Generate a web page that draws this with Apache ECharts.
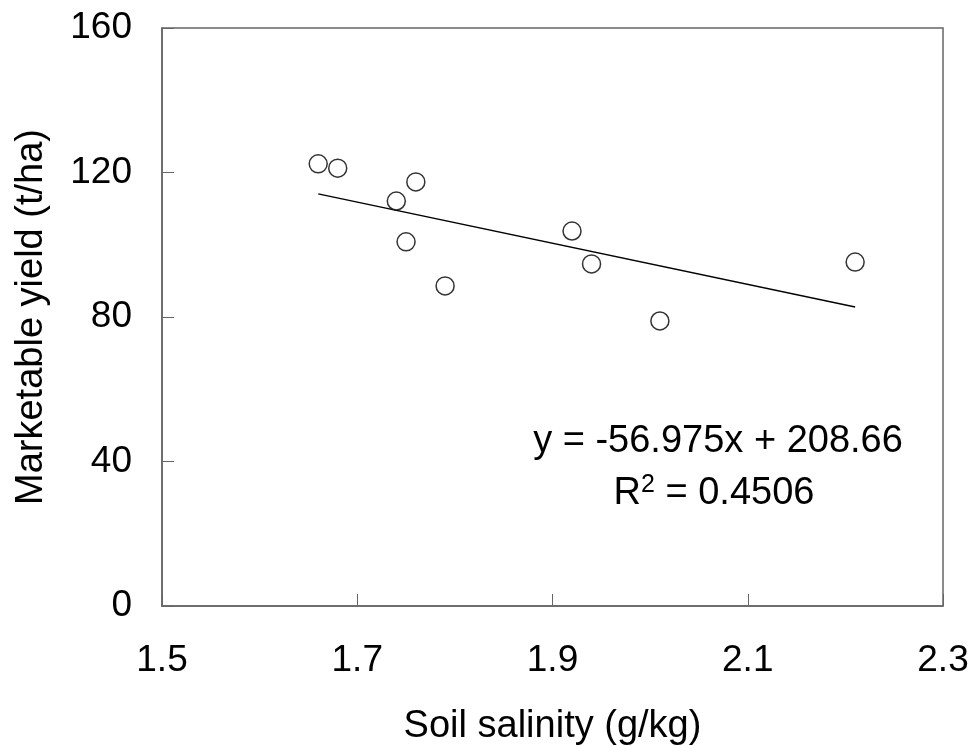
<!DOCTYPE html>
<html><head><meta charset="utf-8">
<script src="https://cdn.jsdelivr.net/npm/echarts@6/dist/echarts.min.js"></script>
<style>html,body{margin:0;padding:0;background:#fff}#c{width:970px;height:746px}</style>
</head><body><div id="c"></div>
<script>
const salinity = [1.66, 1.68, 1.74, 1.76, 1.75, 1.79, 1.92, 1.94, 2.01, 2.21];
const yieldVals = [122.4, 121.2, 112.1, 117.4, 100.8, 88.6, 103.8, 94.7, 78.9, 95.2];
const slope = -56.975, intercept = 208.66;
const xTicks = [1.5, 1.7, 1.9, 2.1, 2.3];
const yTicks = [0, 40, 80, 120, 160];

const pts = salinity.map((x, i) => [x, yieldVals[i]]);
const xmin = Math.min(...salinity), xmax = Math.max(...salinity);
const trend = [[xmin, slope * xmin + intercept], [xmax, slope * xmax + intercept]];
const font = 'Liberation Sans, Arial, sans-serif';

const chart = echarts.init(document.getElementById('c'));
chart.setOption({
  animation: false,
  backgroundColor: '#fff',
  grid: { left: 162, right: 27, top: 28, bottom: 140, outerBoundsMode: 'none', containLabel: false,
          show: true, borderColor: '#666', borderWidth: 1.5 },
  xAxis: {
    type: 'value', min: 1.5, max: 2.3, interval: 0.2,
    name: 'Soil salinity (g/kg)', nameLocation: 'middle', nameGap: 102,
    nameTextStyle: { fontFamily: font, fontSize: 38, color: '#000' },
    axisLine: { lineStyle: { color: '#666', width: 1.5 } },
    axisTick: { inside: true, length: 12, lineStyle: { color: '#666' } },
    axisLabel: { fontFamily: font, fontSize: 37, color: '#000', margin: 36,
      formatter: v => xTicks.includes(Math.round(v * 10) / 10) ? (Math.round(v * 10) / 10).toFixed(1) : '' },
    splitLine: { show: false }
  },
  yAxis: {
    type: 'value', min: 0, max: 160, interval: 40,
    name: 'Marketable yield (t/ha)', nameLocation: 'middle', nameGap: 111,
    nameTextStyle: { fontFamily: font, fontSize: 38, color: '#000' },
    axisLine: { lineStyle: { color: '#666', width: 1.5 } },
    axisTick: { inside: true, length: 12, lineStyle: { color: '#666' } },
    axisLabel: { fontFamily: font, fontSize: 37, color: '#000', margin: 30,
      formatter: v => yTicks.includes(v) ? String(v) : '' },
    splitLine: { show: false }
  },
  series: [
    { type: 'line', data: trend, symbol: 'none', lineStyle: { color: '#000', width: 1.5 }, z: 2 },
    { type: 'scatter', data: pts, symbol: 'circle', symbolSize: 18,
      itemStyle: { color: '#fff', borderColor: '#000', borderWidth: 1.5 }, z: 3 }
  ],
  graphic: [
    { type: 'text', x: 718, y: 442, style: { text: 'y = -56.975x + 208.66', font: '38px ' + font, fill: '#000', align: 'center', verticalAlign: 'middle' } },
    { type: 'text', x: 714, y: 494, style: { text: '{a|R}{s|2}{a| = 0.4506}', align: 'center', verticalAlign: 'middle',
      rich: { a: { fontFamily: font, fontSize: 38, color: '#000' },
              s: { fontFamily: font, fontSize: 25, color: '#000', verticalAlign: 'top', padding: [0, 0, 18, 0] } } } }
  ]
});
</script></body></html>
